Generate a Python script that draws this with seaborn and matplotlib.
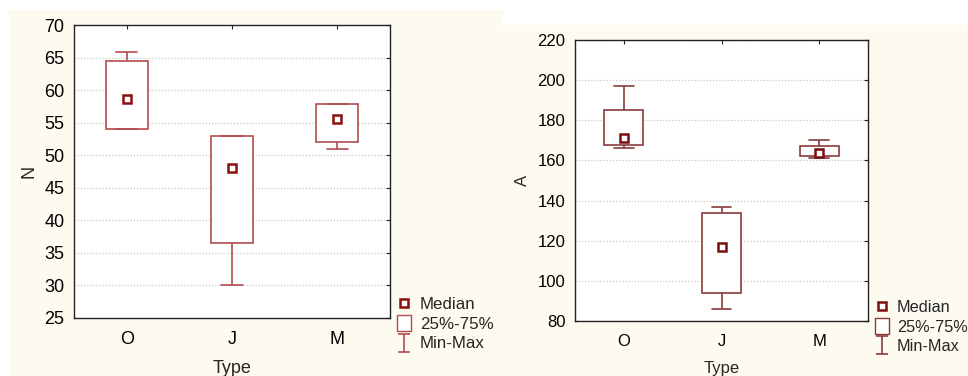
import numpy as np
import pandas as pd
import matplotlib
matplotlib.use("Agg")
import matplotlib.pyplot as plt
from matplotlib.lines import Line2D
from matplotlib.patches import Rectangle
from matplotlib.path import Path
import seaborn as sns

# categories
types = ["O", "J", "M"]

# panel 1: N  (min, q1, median, q3, max)
n_min = [54.0, 30.0, 51.0]
n_q1 = [54.0, 36.5, 52.0]
n_med = [58.6, 48.1, 55.5]
n_q3 = [64.4, 53.0, 57.9]
n_max = [65.9, 53.0, 57.9]

# panel 2: A
a_min = [166.0, 86.0, 161.0]
a_q1 = [167.7, 94.0, 162.3]
a_med = [171.2, 117.0, 163.6]
a_q3 = [185.0, 134.0, 167.0]
a_max = [197.0, 137.0, 170.2]

legend_labels = ["Median", "25%-75%", "Min-Max"]


def five_point_frame(col, mins, q1s, meds, q3s, maxs):
    # five values per group -> quartiles land exactly on q1/q3, whiskers on min/max
    rows = []
    for t, a, b, c, d, e in zip(types, mins, q1s, meds, q3s, maxs):
        for v in (a, b, c, d, e):
            rows.append({"Type": t, col: v})
    return pd.DataFrame(rows)


def draw_panel(ax, df, col, ylim, yticks, boxc, medc, fs, ylabelpad):
    ax.set_axisbelow(True)
    ax.yaxis.grid(True, linestyle=(0, (1, 1.5)), color="#c9c9c9", linewidth=0.9)
    ax.xaxis.grid(False)
    sns.boxplot(data=df, x="Type", y=col, order=types, ax=ax, whis=(0, 100),
                width=0.4, fill=True, color="white", linecolor=boxc, linewidth=1.2,
                medianprops={"visible": False}, showfliers=False)
    sns.pointplot(data=df, x="Type", y=col, order=types, ax=ax, estimator="median",
                  errorbar=None, linestyle="none", marker="s", color=medc,
                  markersize=6, markeredgewidth=1.8)
    for ln in ax.lines[-1:]:
        ln.set_markerfacecolor("white")
        ln.set_zorder(5)
    ax.set_xlim(-0.5, 2.5)
    ax.set_ylim(*ylim)
    ax.set_yticks(yticks)
    ax.tick_params(direction="in", length=3, top=True, right=True,
                   labelsize=fs, colors="#222222", labelcolor="black")
    ax.tick_params(axis="x", pad=9)
    ax.tick_params(axis="y", pad=7)
    for s in ax.spines.values():
        s.set_visible(True)
        s.set_color("#222222")
        s.set_linewidth(1.0)
    ax.set_xlabel("Type", fontsize=fs, labelpad=9)
    ax.set_ylabel(col, fontsize=fs, labelpad=ylabelpad)


def legend_handles(boxc, medc):
    rect = Path([(-0.8, -1), (0.8, -1), (0.8, 1), (-0.8, 1), (-0.8, -1)],
                [Path.MOVETO, Path.LINETO, Path.LINETO, Path.LINETO, Path.CLOSEPOLY])
    ibar = Path([(-0.65, 1), (0.65, 1), (0, 1), (0, -1), (-0.65, -1), (0.65, -1)],
                [Path.MOVETO, Path.LINETO, Path.MOVETO, Path.LINETO, Path.MOVETO, Path.LINETO])
    return [
        Line2D([], [], linestyle="none", marker="s", markersize=6,
               markerfacecolor="white", markeredgecolor=medc, markeredgewidth=1.8),
        Line2D([], [], linestyle="none", marker=rect, markersize=12,
               markerfacecolor="white", markeredgecolor=boxc, markeredgewidth=1.0),
        Line2D([], [], linestyle="none", marker=ibar, markersize=12.5,
               markerfacecolor="none", markeredgecolor=boxc, markeredgewidth=1.2),
    ]


sns.set_style("white")
plt.rcParams["font.family"] = ["Liberation Sans", "DejaVu Sans"]

fig = plt.figure(figsize=(9.68, 3.76), dpi=100, facecolor="white")
cream = "#fdfaf0"
fig.patches.append(Rectangle((9 / 968, 0), 494 / 968, 366 / 376, transform=fig.transFigure,
                             facecolor=cream, edgecolor="none", zorder=-10))
fig.patches.append(Rectangle((503 / 968, 0), 465 / 968, 351 / 376, transform=fig.transFigure,
                             facecolor=cream, edgecolor="none", zorder=-10))

ax1 = fig.add_axes([74 / 968, 1 - 318 / 376, 316 / 968, 293 / 376])
ax2 = fig.add_axes([575 / 968, 1 - 321 / 376, 293 / 968, 281 / 376])

df_n = five_point_frame("N", n_min, n_q1, n_med, n_q3, n_max)
df_a = five_point_frame("A", a_min, a_q1, a_med, a_q3, a_max)

box1, med1 = "#b44c50", "#8b1010"
box2, med2 = "#8a3c3c", "#7a0f0f"

draw_panel(ax1, df_n, "N", (25, 70), np.arange(25, 71, 5), box1, med1, 13, 5)
draw_panel(ax2, df_a, "A", (80, 220), np.arange(80, 221, 20), box2, med2, 12, 5)

for box, med, anchor, fs in [(box1, med1, (396 / 968, 1 - 297 / 376), 12.2),
                             (box2, med2, (874 / 968, 1 - 300 / 376), 11.7)]:
    fig.legend(legend_handles(box, med), legend_labels, loc="upper left",
               bbox_to_anchor=anchor, frameon=False, fontsize=fs,
               handlelength=1.0, handletextpad=0.4, borderpad=0, borderaxespad=0,
               labelspacing=0.28)

fig.savefig("out.png", dpi=100, facecolor="white")
